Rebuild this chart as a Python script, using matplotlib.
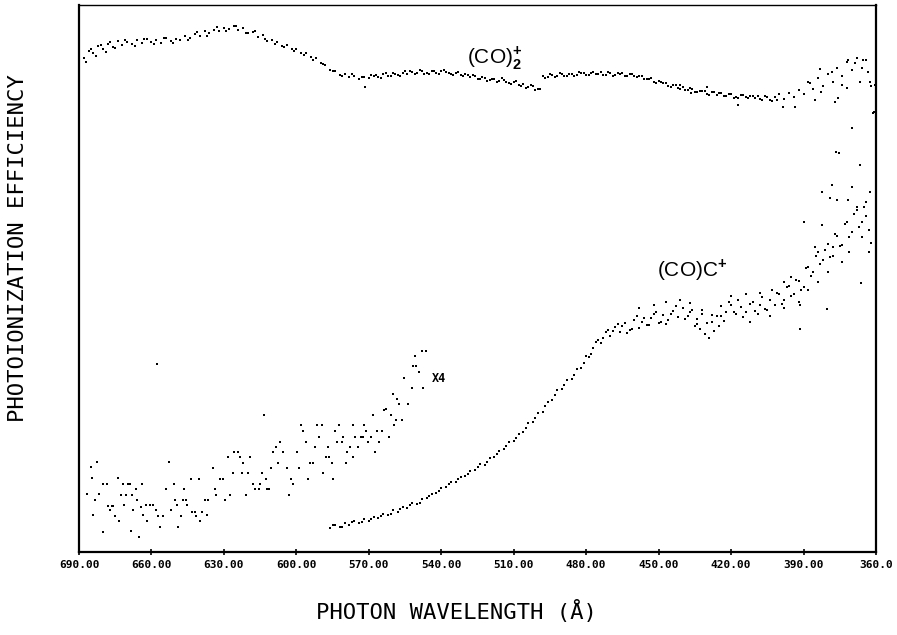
import matplotlib
matplotlib.use("Agg")
import matplotlib.pyplot as plt

# ---------------- data (wavelength in Angstrom, efficiency in arbitrary units) ----------------
tick_values = [690, 660, 630, 600, 570, 540, 510, 480, 450, 420, 390, 360]
tick_labels = ["690.00", "660.00", "630.00", "600.00", "570.00", "540.00",
               "510.00", "480.00", "450.00", "420.00", "390.00", "360.0"]

# (CO)2+ dimer ion curve
dimer_wl = [688, 686, 684, 682, 680, 678, 676, 674, 672, 670,
            668, 666, 664, 662, 660, 658, 656, 654, 652, 650,
            648, 646, 644, 642, 640, 638, 636, 634, 632, 630,
            628, 626, 624, 622, 620, 618, 616, 614, 612, 610,
            608, 606, 604, 602, 600, 598, 596, 594, 592, 590,
            588, 586, 584, 582, 580, 578, 576, 574, 572, 570,
            568, 566, 564, 562, 560, 558, 556, 554, 552, 550,
            548, 546, 544, 542, 540, 538, 536, 534, 532, 530,
            528, 526, 524, 522, 520, 518, 516, 514, 512, 510,
            508, 506, 504, 502, 500, 498, 496, 494, 492, 490,
            488, 486, 484, 482, 480, 478, 476, 474, 472, 470,
            468, 466, 464, 462, 460, 458, 456, 454, 452, 450,
            448, 446, 444, 442, 440, 438, 436, 434, 432, 430,
            428, 426, 424, 422, 420, 418, 416, 414, 412, 410,
            408, 406, 404, 402, 400, 398, 396, 394, 392, 390,
            388, 386, 384, 382, 380, 378, 376, 374, 372, 370,
            368, 366, 364, 362]
dimer_eff = [494, 501, 499, 506, 503, 508, 505, 511, 507, 510,
             508, 512, 509, 513, 510, 512, 509, 514, 511, 513,
             512, 516, 514, 518, 516, 521, 519, 522, 521, 524,
             523, 526, 522, 524, 519, 520, 515, 517, 511, 512,
             510, 506, 507, 503, 503, 499, 499, 495, 494, 489,
             487, 482, 481, 477, 478, 475, 476, 473, 475, 474,
             476, 475, 478, 476, 479, 477, 479, 478, 480, 479,
             481, 479, 481, 479, 481, 480, 478, 479, 477, 478,
             475, 476, 473, 474, 472, 473, 471, 472, 469, 470,
             467, 468, 465, 466, 463, 476, 475, 477, 476, 478,
             476, 478, 477, 479, 477, 479, 478, 480, 477, 479,
             477, 478, 476, 478, 476, 476, 473, 473, 470, 471,
             469, 466, 467, 464, 465, 462, 463, 460, 461, 458,
             460, 457, 459, 456, 458, 455, 457, 455, 456, 454,
             453, 456, 452, 455, 458, 453, 459, 455, 462, 458,
             470, 463, 474, 466, 478, 470, 484, 476, 490, 482,
             494, 484, 492, 466]
dimer_extra_wl = [687, 685, 683, 681, 679, 677, 675, 671, 667, 663, 659, 655, 651, 645,
                  641, 637, 633, 629, 625, 621, 617, 613, 609, 605, 601, 597, 593, 589,
                  585, 581, 577, 573, 569, 561, 553, 545, 537, 529, 521, 513, 505, 501,
                  497, 489, 481, 473, 465, 457, 449, 441, 433, 425, 417, 409, 401, 571.6,
                  383.2, 378.2, 371.6, 368.7, 365.4, 363.3, 360.6, 360.8, 375.7, 377.0,
                  385.3, 393.5, 398.5, 382.8, 374.1, 366.6, 362.5, 372.0, 387.3, 417.1,
                  436.6, 441.2, 430.0,
                  567, 565, 563, 559, 557, 555, 551, 549, 547, 543, 541, 539, 535, 533,
                  531, 527, 525, 523, 519, 517, 515, 511, 509, 507, 503, 499, 495, 493,
                  491, 487, 485, 483, 479, 477, 475, 471, 469, 467, 463, 461, 459, 455,
                  453, 451, 447, 445, 443, 439, 437, 435, 431, 429, 427, 423, 421, 419,
                  415, 413, 411, 407, 405, 403]
dimer_extra_eff = [490, 503, 496, 507, 500, 510, 504, 512, 506, 513, 508, 514, 509, 512,
                   520, 516, 525, 521, 526, 519, 521, 513, 508, 505, 501, 497, 492, 488,
                   481, 476, 478, 475, 477, 476, 481, 478, 479, 477, 471, 470, 464, 462,
                   474, 476, 479, 477, 479, 476, 470, 463, 461, 459, 454, 456, 452, 465,
                   483, 480, 492, 489, 492, 480, 467, 440, 454, 450,
                   452, 445, 445, 460, 467, 470, 470, 464, 469, 447,
                   459, 467, 465,
                   477, 474, 479, 478, 476, 481, 478, 482, 478, 481, 478, 482, 477, 480,
                   476, 477, 473, 475, 473, 470, 474, 468, 471, 466, 467, 463, 478, 475,
                   479, 478, 476, 480, 477, 480, 478, 480, 476, 479, 476, 478, 475, 473,
                   474, 469, 469, 465, 467, 462, 464, 460, 461, 457, 460, 456, 458, 454,
                   457, 454, 456, 452, 455, 451]

# (CO)C+ ion curve
coc_wl = [586, 584, 582, 580, 578, 576, 574, 572, 570, 568,
          566, 564, 562, 560, 558, 556, 554, 552, 550, 548,
          546, 544, 542, 540, 538, 536, 534, 532, 530, 528,
          526, 524, 522, 520, 518, 516, 514, 512, 510, 508,
          506, 504, 502, 500, 498, 496, 494, 492, 490, 488,
          486, 484, 482, 480, 478, 476, 474, 472, 470, 468,
          466, 464, 462, 460, 458, 456, 454, 452, 450, 448,
          446, 444, 442, 440, 438, 436, 434, 432, 430, 428,
          426, 424, 422, 420, 418, 416, 414, 412, 410, 408,
          406, 404, 402, 400, 398, 396, 394, 392, 390, 388,
          386, 384, 382, 380, 378, 376, 374, 372, 370, 368,
          366, 364, 362]
coc_eff = [24, 27, 25, 29, 27, 31, 29, 33, 31, 35,
           34, 38, 37, 42, 40, 45, 44, 49, 48, 53,
           54, 58, 59, 64, 65, 70, 70, 75, 76, 81,
           82, 88, 87, 94, 95, 101, 103, 110, 111, 118,
           120, 129, 130, 139, 140, 150, 152, 162, 163, 172,
           173, 183, 184, 196, 198, 210, 209, 220, 216, 225,
           220, 229, 222, 232, 224, 234, 227, 238, 229, 237,
           232, 241, 235, 244, 236, 242, 233, 238, 229, 237,
           236, 246, 240, 247, 238, 245, 240, 248, 241, 247,
           243, 252, 247, 258, 252, 266, 258, 271, 265, 285,
           280, 300, 292, 308, 296, 316, 307, 330, 320, 342,
           330, 336, 309]
coc_extra_wl = [585, 581, 577, 573, 569, 565, 561, 557, 553, 549, 545, 541, 537, 533,
                529, 525, 521, 517, 513, 509, 505, 501, 497, 493, 489, 485, 481, 477,
                473, 469, 465, 461, 457, 453, 449, 445,
                431, 429, 427, 433, 425, 423, 435,
                458, 452, 447, 441, 437, 420, 414, 408, 403, 398, 395, 412, 404, 398,
                392, 388, 384, 380, 374, 371, 368, 364, 363, 362.5,
                369.9, 376.6, 375.3, 361.2, 366.6, 369.9, 378.2, 382.4, 379.1, 376.2,
                371.6, 365.8, 366.2, 380.3, 391.5, 391.5, 389.8, 382.4, 377.8, 385.3,
                479, 475, 471, 467, 463, 459, 455, 451, 447, 443, 439, 437, 434, 432,
                428, 424, 421, 419, 417, 415, 411, 409, 407, 405, 401, 399, 397, 395,
                393, 391, 389, 387, 385, 383, 381, 379, 377, 375, 373, 371, 369, 367,
                365, 363]
coc_extra_eff = [27, 25, 30, 30, 33, 36, 38, 43, 47, 49, 56, 61, 68, 73,
                 78, 85, 90, 98, 106, 114, 124, 134, 146, 157, 167, 177, 189, 204,
                 214, 221, 226, 223, 230, 234, 230, 238,
                 218, 214, 221, 223, 226, 231, 226,
                 244, 247, 250, 252, 249, 256, 258, 259, 262, 270, 275, 230, 236, 244,
                 250, 262, 270, 280, 290, 300, 345, 350, 300, 360,
                 424, 400, 399, 439, 387, 365, 367, 360, 354, 352,
                 352, 315, 269, 243, 223, 247, 330, 327, 305, 305,
                 195, 212, 222, 228, 219, 236, 227, 240, 228, 246, 233, 240, 228, 242,
                 230, 236, 250, 240, 252, 235, 250, 238, 255, 242, 259, 248, 265, 256,
                 272, 262, 284, 276, 296, 288, 302, 295, 318, 306, 328, 315, 338, 325,
                 345, 322]

# low-energy part of (CO)C+ magnified x4
x4_wl = [686.8, 685.0, 684.5, 682.4, 683.5, 681.6, 684.1, 680.2, 679.9, 678.5,
         677.9, 676.5, 677.2, 676.1, 675.1, 673.6, 673.9, 672.5, 671.9, 671.4,
         670.7, 669.7, 669.0, 668.6, 668.1, 667.5, 666.4, 665.8, 665.3, 664.1,
         664.3, 663.4, 662.4, 661.7, 660.6, 659.2, 658.1, 657.8, 657.3, 656.5,
         655.4, 654.0, 652.9, 652.1, 650.7, 650.3, 649.6, 648.9, 647.9, 647.1,
         646.5, 645.7, 645.1, 643.8, 643.4, 642.0, 641.6, 640.2, 639.9, 639.1,
         638.0, 637.1, 636.4, 634.4, 633.6, 633.3, 631.6, 630.2, 629.5, 628.2,
         627.5, 626.4, 625.7, 624.0, 623.3, 622.6, 621.9, 620.9, 619.9, 619.2,
         618.1, 617.1, 615.5, 615.1, 614.4, 613.4, 612.6, 612.0, 611.2, 610.6,
         609.5, 608.4, 607.5, 606.8, 605.7, 604.0, 602.9, 602.4, 601.5, 599.9,
         598.8, 597.9, 597.1, 596.0, 595.1, 594.4, 593.3, 592.4, 591.6, 590.5,
         589.4, 588.8, 587.7, 586.8, 586.4, 585.4, 585.0, 583.9, 583.3, 582.2,
         581.2, 580.5, 579.4, 578.9, 577.8, 576.7, 576.4, 575.7, 574.3, 573.4,
         572.5, 572.0, 571.2, 570.2, 569.2, 568.1, 567.4, 566.8, 565.6, 564.7,
         563.7, 562.9, 561.5, 561.0, 560.1, 559.4, 558.7, 558.2, 557.4, 556.4,
         555.3, 553.6, 552.3, 551.6, 550.5, 550.9, 549.4, 547.4, 548.1, 546.5]
x4_eff = [58, 85, 74, 90, 52, 58, 37, 20, 68, 68,
          46, 46, 42, 46, 36, 31, 74, 57, 68, 47,
          57, 68, 68, 21, 57, 42, 63, 52, 15, 68,
          45, 37, 47, 31, 47, 47, 42, 188, 36, 25,
          36, 63, 90, 42, 68, 52, 47, 25, 36, 52,
          63, 52, 47, 73, 40, 40, 36, 73, 31, 40,
          52, 37, 52, 84, 63, 57, 73, 73, 52, 95,
          57, 79, 100, 100, 95, 79, 89, 57, 79, 95,
          68, 63, 63, 68, 79, 137, 73, 63, 63, 84,
          100, 105, 89, 110, 100, 84, 57, 73, 68, 100,
          84, 127, 121, 110, 73, 89, 89, 105, 127, 115,
          127, 79, 95, 105, 95, 89, 73, 121, 110, 127,
          110, 115, 89, 100, 105, 127, 95, 115, 105, 115,
          115, 127, 121, 110, 115, 137, 100, 121, 110, 121,
          142, 143, 115, 137, 158, 127, 132, 153, 148, 132,
          174, 148, 164, 186, 186, 196, 180, 164, 201, 201]

# ---------------- figure ----------------
plt.rcParams['mathtext.fontset'] = 'custom'
plt.rcParams['mathtext.rm'] = 'Liberation Sans'
plt.rcParams['mathtext.bf'] = 'Liberation Sans:bold'

fig = plt.figure(figsize=(8.97, 6.35), dpi=100)
ax = fig.add_axes([79 / 897, 83 / 635, 797 / 897, 547 / 635])

dot = dict(ls='none', marker='s', ms=2.1, mew=0, color='black')
ax.plot(dimer_wl, dimer_eff, **dot)
ax.plot(dimer_extra_wl, dimer_extra_eff, **dot)
ax.plot(coc_wl, coc_eff, **dot)
ax.plot(coc_extra_wl, coc_extra_eff, **dot)
ax.plot(x4_wl, x4_eff, ls='none', marker='s', ms=1.7, mew=0, color='black')

ax.set_xlim(690, 360)
ax.set_ylim(0, 547)
ax.set_yticks([])
ax.set_xticks(tick_values)
ax.set_xticklabels(tick_labels, fontfamily='DejaVu Sans Mono', fontweight='bold', fontsize=8)
ax.tick_params(axis='x', direction='inout', length=5, width=1.2, pad=3)

for side in ['left', 'bottom', 'right']:
    ax.spines[side].set_linewidth(1.6)
ax.spines['top'].set_linewidth(1.0)

ax.text(529.3, 494, r"(CO)$_\mathbf{2}^\mathbf{+}$", fontfamily='Liberation Sans',
        fontsize=15, ha='left', va='center')
ax.text(450.7, 282, r"(CO)C$^\mathbf{+}$", fontfamily='Liberation Sans',
        fontsize=15, ha='left', va='center')
ax.text(543.8, 173, "X4", fontfamily='DejaVu Sans Mono', fontweight='bold',
        fontsize=8.5, ha='left', va='center')

fig.text(18 / 897, 1 - 248 / 635, "PHOTOIONIZATION EFFICIENCY", rotation=90,
         ha='center', va='center', fontfamily='DejaVu Sans Mono', fontsize=16)
fig.text(456 / 897, 1 - 611 / 635, "PHOTON WAVELENGTH (Å)",
         ha='center', va='center', fontfamily='DejaVu Sans Mono', fontsize=16)

fig.savefig("out.png", dpi=100)
